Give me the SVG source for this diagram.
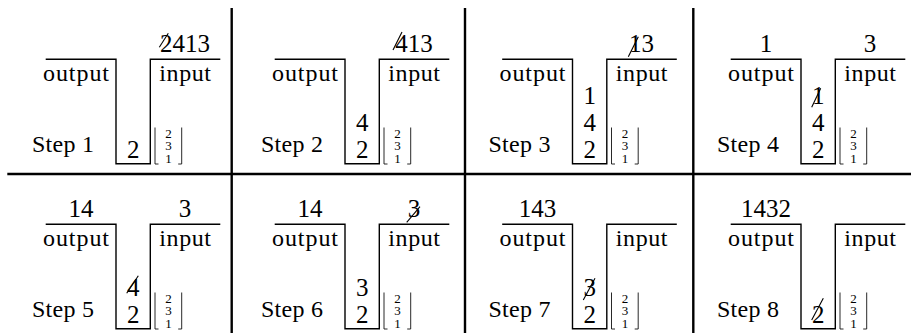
<svg xmlns="http://www.w3.org/2000/svg" width="911" height="333" viewBox="0 0 911 333">
<defs>
<style>
text{font-family:"Liberation Serif","Times New Roman",serif;fill:#000}
.num{font-size:25px;text-anchor:middle}
.lbl{font-size:24px}
.sm{font-size:13px;text-anchor:middle}
.stack{fill:none;stroke:#000;stroke-width:1.4}
.br{fill:none;stroke:#111;stroke-width:0.9}
.sl{stroke:#000;stroke-width:1.1;fill:none}
.sep{stroke:#000;stroke-width:2.4}
</style>
<g id="frame">
<path class="stack" d="M45.7,59.3 H116 V163.7 H150.3 V59.3 H220.3"/>
<text class="lbl" x="43" y="81" textLength="66" lengthAdjust="spacing">output</text>
<text class="lbl" x="159.3" y="81" textLength="51.7" lengthAdjust="spacing">input</text>
<path class="br" d="M155,127.5 V164 H158.5 M181.7,127.5 V164 H178.2"/>
<text class="sm" x="168.4" y="137.5">2</text>
<text class="sm" x="168.4" y="150.3">3</text>
<text class="sm" x="168.4" y="163">1</text>
</g>
</defs>
<g id="separators">
<line class="sep" x1="231.7" y1="8" x2="231.7" y2="333"/>
<line class="sep" x1="465" y1="8" x2="465" y2="333"/>
<line class="sep" x1="693.3" y1="8" x2="693.3" y2="333"/>
<line class="sep" x1="7.3" y1="174" x2="911" y2="174"/>
</g>
<g id="step1">
<use href="#frame"/>
<text class="lbl" x="32" y="151.7" textLength="62" lengthAdjust="spacing">Step 1</text>
<text class="num" x="185" y="51.5">2413</text>
<line class="sl" x1="159.3" y1="47.3" x2="168.3" y2="33.3"/>
<text class="num" x="133.2" y="157.5">2</text>
</g>
<g id="step2" transform="translate(229,0)">
<use href="#frame"/>
<text class="lbl" x="32" y="151.7" textLength="62" lengthAdjust="spacing">Step 2</text>
<text class="num" x="185" y="51.5">413</text>
<line class="sl" x1="164" y1="50" x2="173" y2="32"/>
<text class="num" x="133.2" y="157.5">2</text>
<text class="num" x="133.2" y="130.5">4</text>
</g>
<g id="step3" transform="translate(456.5,0)">
<use href="#frame"/>
<text class="lbl" x="32" y="151.7" textLength="62" lengthAdjust="spacing">Step 3</text>
<text class="num" x="185" y="51.5">13</text>
<line class="sl" x1="171.8" y1="56.7" x2="181.8" y2="36.7"/>
<text class="num" x="133.2" y="157.5">2</text>
<text class="num" x="133.2" y="130.5">4</text>
<text class="num" x="133.2" y="103.5">1</text>
</g>
<g id="step4" transform="translate(685,0)">
<use href="#frame"/>
<text class="lbl" x="32" y="151.7" textLength="62" lengthAdjust="spacing">Step 4</text>
<text class="num" x="81" y="51.5">1</text>
<text class="num" x="185" y="51.5">3</text>
<text class="num" x="133.2" y="157.5">2</text>
<text class="num" x="133.2" y="130.5">4</text>
<text class="num" x="133.2" y="103.5">1</text>
<line class="sl" x1="126.7" y1="107.3" x2="135.7" y2="88.3"/>
</g>
<g id="step5" transform="translate(0,165)">
<use href="#frame"/>
<text class="lbl" x="32" y="151.7" textLength="62" lengthAdjust="spacing">Step 5</text>
<text class="num" x="81" y="51.5">14</text>
<text class="num" x="185" y="51.5">3</text>
<text class="num" x="133.2" y="157.5">2</text>
<text class="num" x="133.2" y="130.5">4</text>
<line class="sl" x1="126.7" y1="128.3" x2="138.3" y2="110.7"/>
</g>
<g id="step6" transform="translate(229,165)">
<use href="#frame"/>
<text class="lbl" x="32" y="151.7" textLength="62" lengthAdjust="spacing">Step 6</text>
<text class="num" x="81" y="51.5">14</text>
<text class="num" x="185" y="51.5">3</text>
<line class="sl" x1="177.7" y1="57.3" x2="191" y2="41.7"/>
<text class="num" x="133.2" y="157.5">2</text>
<text class="num" x="133.2" y="130.5">3</text>
</g>
<g id="step7" transform="translate(456.5,165)">
<use href="#frame"/>
<text class="lbl" x="32" y="151.7" textLength="62" lengthAdjust="spacing">Step 7</text>
<text class="num" x="81" y="51.5">143</text>
<text class="num" x="133.2" y="157.5">2</text>
<text class="num" x="133.2" y="130.5">3</text>
<line class="sl" x1="126.8" y1="135" x2="138.5" y2="113.3"/>
</g>
<g id="step8" transform="translate(685,165)">
<use href="#frame"/>
<text class="lbl" x="32" y="151.7" textLength="62" lengthAdjust="spacing">Step 8</text>
<text class="num" x="81" y="51.5">1432</text>
<text class="num" x="133.2" y="157.5">2</text>
<line class="sl" x1="126.7" y1="155" x2="138.3" y2="133.3"/>
</g>
</svg>
